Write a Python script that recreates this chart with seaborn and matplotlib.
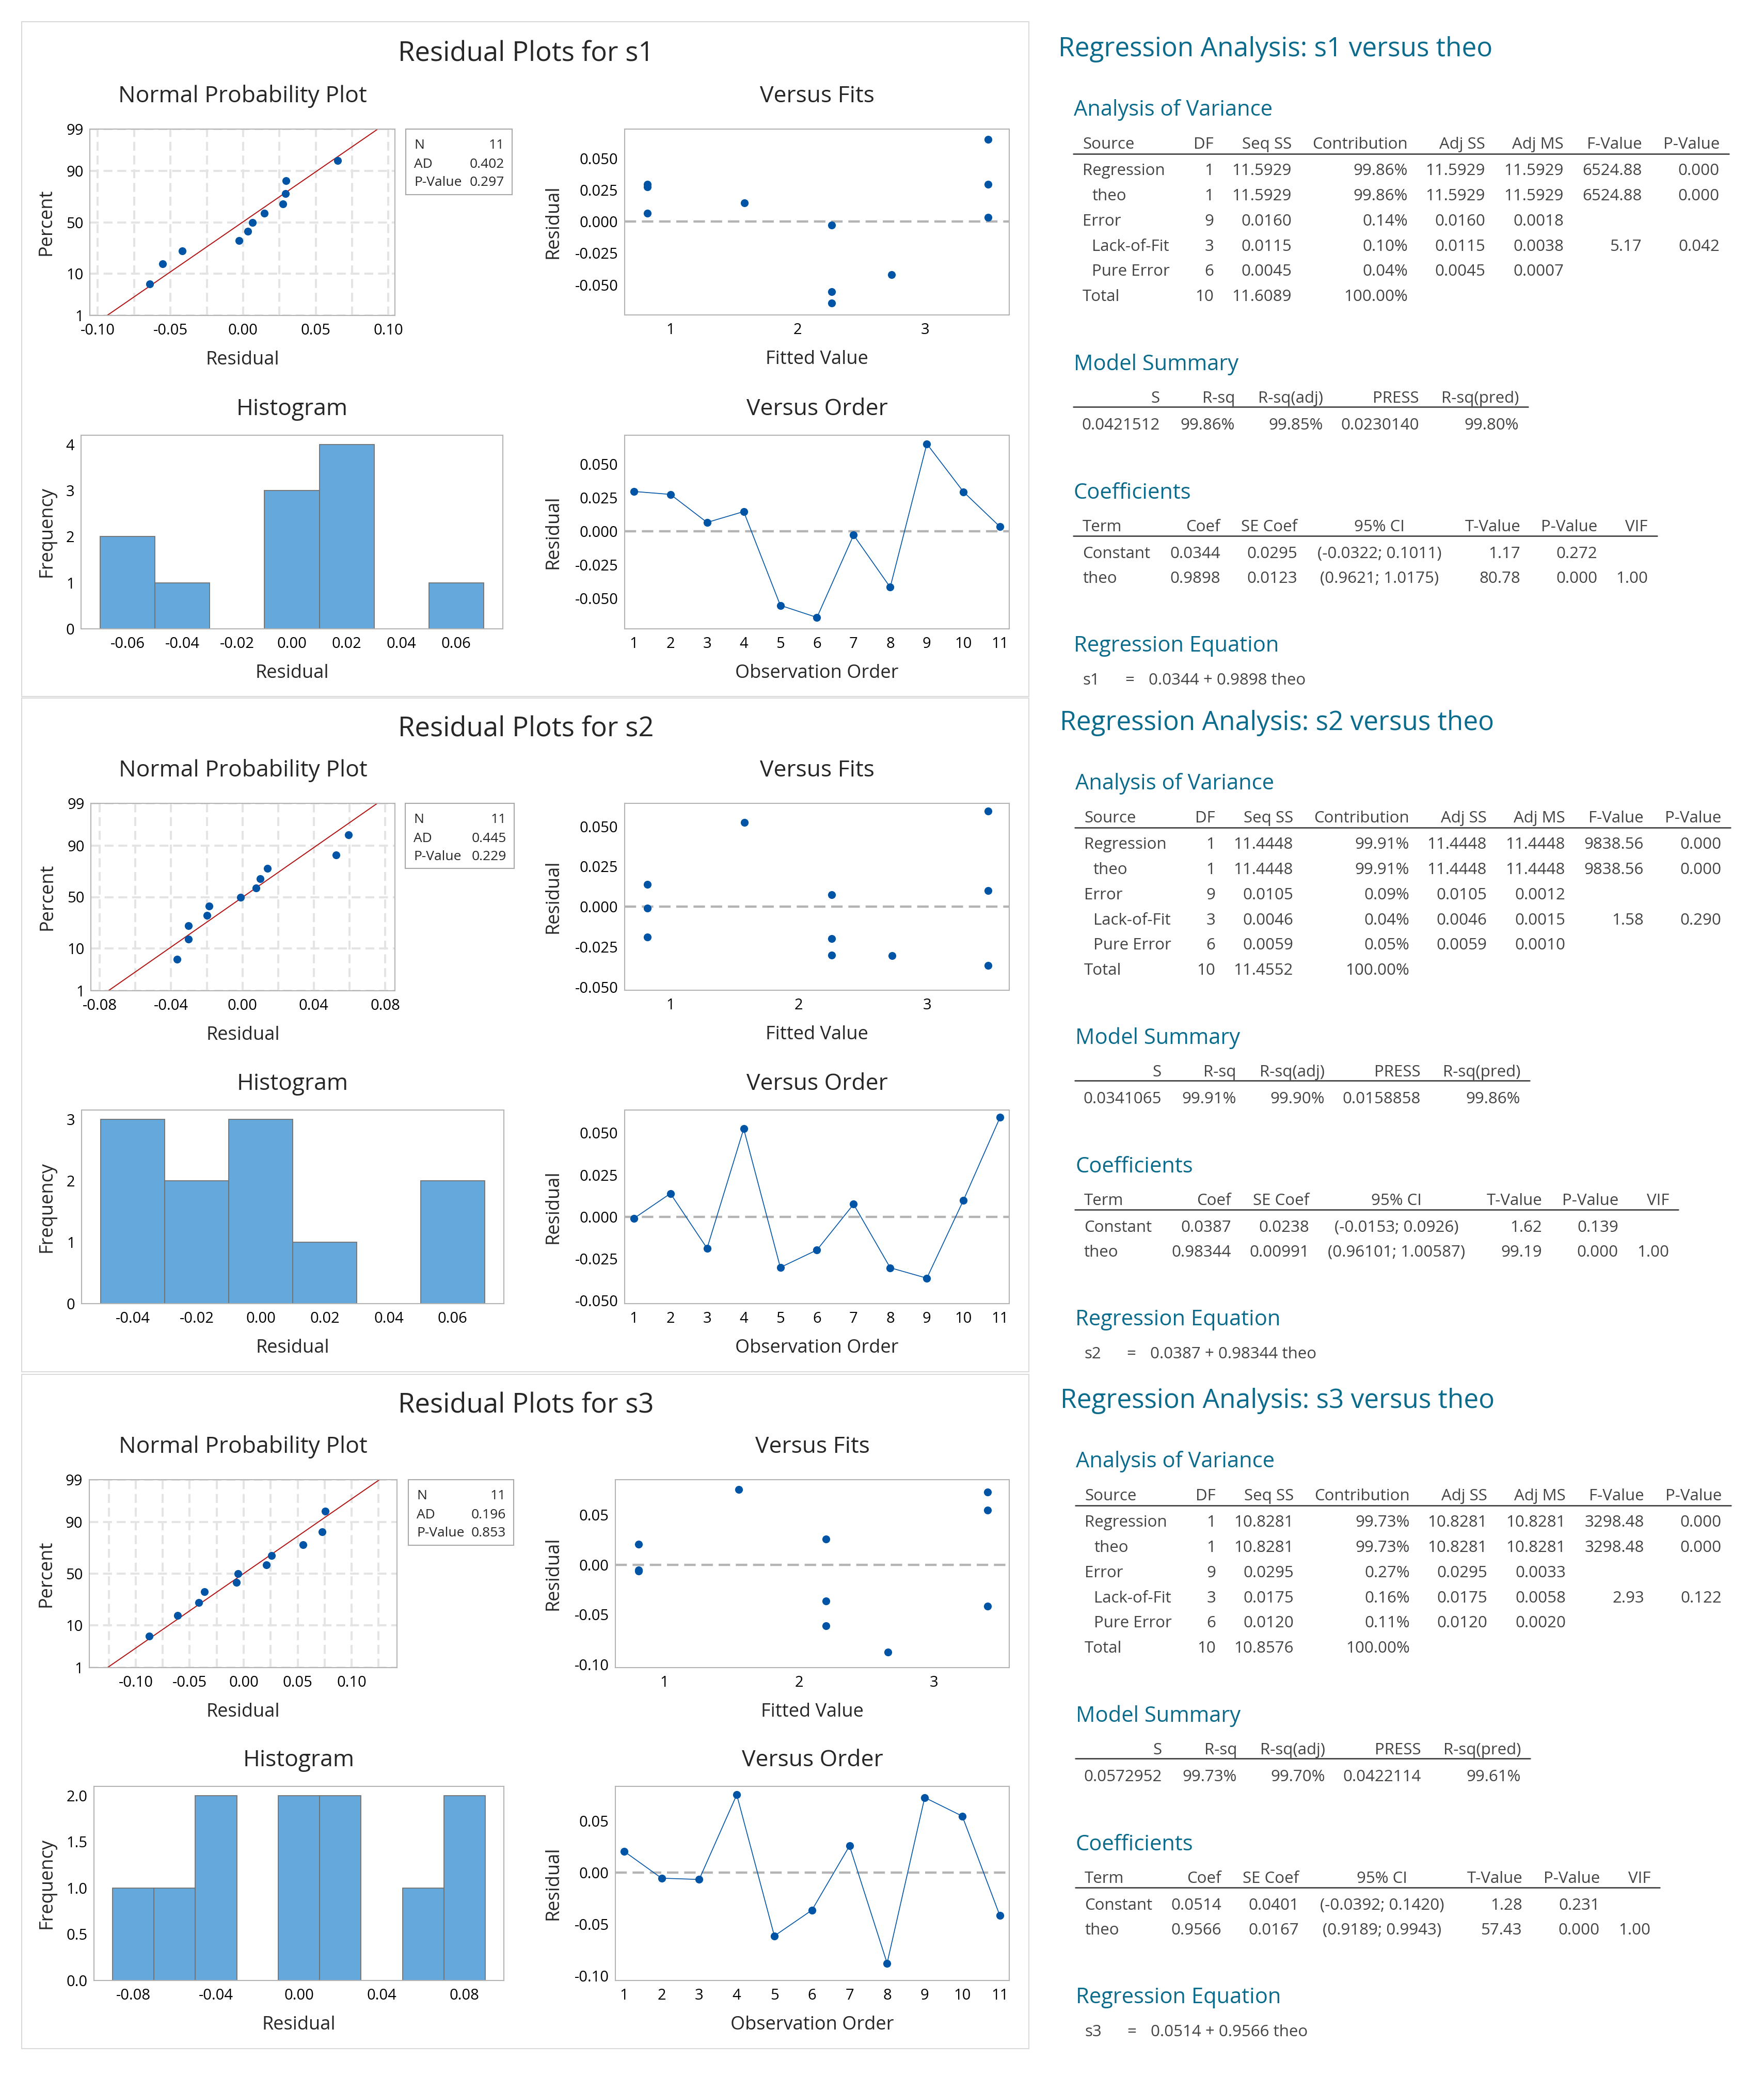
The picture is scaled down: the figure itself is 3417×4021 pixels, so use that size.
import numpy as np
import pandas as pd
import seaborn as sns
import matplotlib.pyplot as plt
from matplotlib.lines import Line2D
from matplotlib.patches import Rectangle
from matplotlib.ticker import MultipleLocator, FormatStrFormatter
from statistics import NormalDist

samples = ["s1", "s2", "s3"]
obs_order = [1, 2, 3, 4, 5, 6, 7, 8, 9, 10, 11]

resid_s1 = [0.0296, 0.0274, 0.0065, 0.0146, -0.0553, -0.0643, -0.0029, -0.0418, 0.0651, 0.0293, 0.0032]
fits_s1 = [0.818, 0.818, 0.818, 1.582, 2.268, 2.268, 2.268, 2.735, 3.494, 3.494, 3.494]
resid_s2 = [-0.0010, 0.0139, -0.0188, 0.0525, -0.0302, -0.0198, 0.0075, -0.0304, -0.0366, 0.0099, 0.0594]
fits_s2 = [0.820, 0.820, 0.820, 1.577, 2.258, 2.258, 2.258, 2.727, 3.474, 3.474, 3.474]
resid_s3 = [0.0208, -0.0053, -0.0065, 0.0755, -0.0612, -0.0362, 0.0260, -0.0876, 0.0728, 0.0548, -0.0415]
fits_s3 = [0.808, 0.808, 0.808, 1.550, 2.200, 2.200, 2.200, 2.660, 3.400, 3.400, 3.400]

# normal plot positions (percent) and fitted line ends at 1% / 99%
npp_percent = [6.1, 14.9, 23.7, 32.5, 41.2, 50.0, 58.8, 67.5, 76.3, 85.1, 93.9]
npp_line_s1 = [-0.0936, 0.0927]
npp_line_s2 = [-0.0752, 0.0756]
npp_line_s3 = [-0.1262, 0.1258]
npp_line_pct = [1, 99]

stats_s1 = ["11", "0.402", "0.297"]
stats_s2 = ["11", "0.445", "0.229"]
stats_s3 = ["11", "0.196", "0.853"]
stats_names = ["N", "AD", "P-Value"]

hist_bins_s1 = [-0.07, -0.05, -0.03, -0.01, 0.01, 0.03, 0.05, 0.07]
hist_bins_s2 = [-0.05, -0.03, -0.01, 0.01, 0.03, 0.05, 0.07]
hist_bins_s3 = [-0.09, -0.07, -0.05, -0.03, -0.01, 0.01, 0.03, 0.05, 0.07, 0.09]

# tick labels
npp_yticks = [1, 10, 50, 90, 99]
npp_xticks_s1 = [-0.10, -0.05, 0.00, 0.05, 0.10]
npp_xticks_s2 = [-0.08, -0.04, 0.00, 0.04, 0.08]
npp_xticks_s3 = [-0.10, -0.05, 0.00, 0.05, 0.10]
resid_ticks_s1 = [-0.050, -0.025, 0.000, 0.025, 0.050]
resid_ticks_s2 = [-0.050, -0.025, 0.000, 0.025, 0.050]
resid_ticks_s3 = [-0.10, -0.05, 0.00, 0.05]
fit_ticks = [1, 2, 3]
hist_xticks_s1 = [-0.06, -0.04, -0.02, 0.00, 0.02, 0.04, 0.06]
hist_xticks_s2 = [-0.04, -0.02, 0.00, 0.02, 0.04, 0.06]
hist_xticks_s3 = [-0.08, -0.04, 0.00, 0.04, 0.08]
hist_yticks_s1 = [0, 1, 2, 3, 4]
hist_yticks_s2 = [0, 1, 2, 3]
hist_yticks_s3 = [0.0, 0.5, 1.0, 1.5, 2.0]

# regression tables
aov_header = ["Source", "DF", "Seq SS", "Contribution", "Adj SS", "Adj MS", "F-Value", "P-Value"]
aov_source = ["Regression", "theo", "Error", "Lack-of-Fit", "Pure Error", "Total"]
aov_indent = [0, 1, 0, 1, 1, 0]
aov_s1 = [["1", "11.5929", "99.86%", "11.5929", "11.5929", "6524.88", "0.000"],
          ["1", "11.5929", "99.86%", "11.5929", "11.5929", "6524.88", "0.000"],
          ["9", "0.0160", "0.14%", "0.0160", "0.0018", "", ""],
          ["3", "0.0115", "0.10%", "0.0115", "0.0038", "5.17", "0.042"],
          ["6", "0.0045", "0.04%", "0.0045", "0.0007", "", ""],
          ["10", "11.6089", "100.00%", "", "", "", ""]]
aov_s2 = [["1", "11.4448", "99.91%", "11.4448", "11.4448", "9838.56", "0.000"],
          ["1", "11.4448", "99.91%", "11.4448", "11.4448", "9838.56", "0.000"],
          ["9", "0.0105", "0.09%", "0.0105", "0.0012", "", ""],
          ["3", "0.0046", "0.04%", "0.0046", "0.0015", "1.58", "0.290"],
          ["6", "0.0059", "0.05%", "0.0059", "0.0010", "", ""],
          ["10", "11.4552", "100.00%", "", "", "", ""]]
aov_s3 = [["1", "10.8281", "99.73%", "10.8281", "10.8281", "3298.48", "0.000"],
          ["1", "10.8281", "99.73%", "10.8281", "10.8281", "3298.48", "0.000"],
          ["9", "0.0295", "0.27%", "0.0295", "0.0033", "", ""],
          ["3", "0.0175", "0.16%", "0.0175", "0.0058", "2.93", "0.122"],
          ["6", "0.0120", "0.11%", "0.0120", "0.0020", "", ""],
          ["10", "10.8576", "100.00%", "", "", "", ""]]

ms_header = ["S", "R-sq", "R-sq(adj)", "PRESS", "R-sq(pred)"]
ms_s1 = ["0.0421512", "99.86%", "99.85%", "0.0230140", "99.80%"]
ms_s2 = ["0.0341065", "99.91%", "99.90%", "0.0158858", "99.86%"]
ms_s3 = ["0.0572952", "99.73%", "99.70%", "0.0422114", "99.61%"]

coef_header = ["Term", "Coef", "SE Coef", "95% CI", "T-Value", "P-Value", "VIF"]
coef_terms = ["Constant", "theo"]
coef_s1 = [["0.0344", "0.0295", "(-0.0322; 0.1011)", "1.17", "0.272", ""],
           ["0.9898", "0.0123", "(0.9621; 1.0175)", "80.78", "0.000", "1.00"]]
coef_s2 = [["0.0387", "0.0238", "(-0.0153; 0.0926)", "1.62", "0.139", ""],
           ["0.98344", "0.00991", "(0.96101; 1.00587)", "99.19", "0.000", "1.00"]]
coef_s3 = [["0.0514", "0.0401", "(-0.0392; 0.1420)", "1.28", "0.231", ""],
           ["0.9566", "0.0167", "(0.9189; 0.9943)", "57.43", "0.000", "1.00"]]

equation_s1 = "0.0344 + 0.9898 theo"
equation_s2 = "0.0387 + 0.98344 theo"
equation_s3 = "0.0514 + 0.9566 theo"

# ---------------- styling ----------------
BLUE = "#0054a6"
RED = "#b01010"
HIST = "#65a8dc"
HIST_EDGE = "#727272"
FRAME = "#b4b4b4"
GRID = "#e4e4e4"
TEAL = "#0b6b8c"
TXT = "#444444"

sns.set_style("white")
plt.rcParams["font.family"] = ["Open Sans", "DejaVu Sans"]
plt.rcParams["axes.unicode_minus"] = False

W, H = 3417, 4021
fig = plt.figure(figsize=(W / 100, H / 100), dpi=100)


def fx(x):
    return x / W


def fy(y):
    return 1 - y / H


def add_ax(box, off):
    x0, y0, x1, y1 = box
    return fig.add_axes([fx(x0), fy(y1 + off), (x1 - x0) / W, (y1 - y0) / H])


def ftext(x, y, s, **kw):
    # nudge down so the visual centre of the letters sits on y
    kw.setdefault("va", "center")
    y = y + 0.14 * kw.get("fontsize", 20)
    fig.text(fx(x), fy(y), s, **kw)


def hline(x0, x1, y, color="#333333", lw=1.8):
    fig.add_artist(Line2D([fx(x0), fx(x1)], [fy(y), fy(y)], transform=fig.transFigure,
                          color=color, lw=lw))


_nd = NormalDist()


def probit(p):
    p = np.asarray(p, dtype=float)
    out = np.full(p.shape, np.nan)
    ok = np.isfinite(p)
    pc = np.clip(p[ok], 1e-7, 100 - 1e-7)
    out[ok] = [_nd.inv_cdf(v / 100.0) for v in pc]
    return out


def probit_inv(z):
    z = np.asarray(z, dtype=float)
    out = np.full(z.shape, np.nan)
    ok = np.isfinite(z)
    out[ok] = [_nd.cdf(v) * 100.0 for v in z[ok]]
    return out


def style_ax(ax, tick_size=21):
    for sp in ax.spines.values():
        sp.set_color(FRAME)
        sp.set_linewidth(1.5)
    ax.tick_params(axis="both", which="major", direction="out", length=4, width=1.2,
                   color=FRAME, labelsize=tick_size, labelcolor="black", pad=5)
    ax.tick_params(axis="both", which="minor", length=0)
    ax.tick_params(axis="x", which="major", pad=7)


def titles(ax, title, xlabel, ylabel, box, title_gap, ylab_gap):
    x0, y0, x1, y1 = box
    w, h = x1 - x0, y1 - y0
    ax.set_title(title, fontsize=32, y=1 + title_gap / h, va="center")
    ax.set_xlabel(xlabel, fontsize=26, va="center")
    ax.xaxis.set_label_coords(0.5, -86 / h)
    ax.set_ylabel(ylabel, fontsize=26, va="center")
    ax.yaxis.set_label_coords(-ylab_gap / w, 0.5)


# ---------------- layout (pixels) ----------------
left_off = [0, 1308, 2618]
right_off = [0, 1305, 2618]
right_dx = [0, 3, 4]
panel_box = [(42, 42, 1993, 1349), (42, 1352, 1993, 2657), (42, 2662, 1993, 3968)]
npp_box = [(174, 250, 765, 611), (176, 248, 765, 611), (173, 248, 769, 612)]
stat_box = [(786, 250, 992, 377), (785, 248, 996, 374), (791, 248, 995, 375)]
vf_box = [(1210, 250, 1955, 610), (1210, 248, 1955, 610), (1192, 248, 1955, 612)]
hist_box = [(157, 843, 974, 1218), (158, 842, 976, 1217), (182, 842, 976, 1218)]
vo_box = [(1210, 843, 1955, 1218), (1210, 842, 1955, 1217), (1192, 842, 1955, 1218)]
vf_gap = [139, 139, 121]
hist_gap = [67, 68, 92]

npp_xlim = [(-0.1055, 0.1045), (-0.085, 0.0855), (-0.143, 0.142)]
npp_minor = [0.025, 0.02, 0.025]
vf_xlim = [(0.641, 3.66), (0.644, 3.64), (0.636, 3.56)]
vf_ylim = [(-0.0738, 0.0731), (-0.0519, 0.0643), (-0.1031, 0.0853)]
vo_xlim = [(0.75, 11.25), (0.75, 11.25), (0.77, 11.25)]
vo_ylim = [(-0.0728, 0.0715), (-0.0518, 0.0637), (-0.1043, 0.0836)]
resid_fmt = ["%.3f", "%.3f", "%.2f"]
hist_yfmt = ["%d", "%d", "%.1f"]

resids = [resid_s1, resid_s2, resid_s3]
fits = [fits_s1, fits_s2, fits_s3]
npp_lines = [npp_line_s1, npp_line_s2, npp_line_s3]
stats = [stats_s1, stats_s2, stats_s3]
hist_bins = [hist_bins_s1, hist_bins_s2, hist_bins_s3]
npp_xticks = [npp_xticks_s1, npp_xticks_s2, npp_xticks_s3]
resid_ticks = [resid_ticks_s1, resid_ticks_s2, resid_ticks_s3]
hist_xticks = [hist_xticks_s1, hist_xticks_s2, hist_xticks_s3]
hist_yticks = [hist_yticks_s1, hist_yticks_s2, hist_yticks_s3]

for k, name in enumerate(samples):
    off = left_off[k]
    df = pd.DataFrame({"order": obs_order, "fit": fits[k], "resid": resids[k]})

    # panel frame + title
    bx0, by0, bx1, by1 = panel_box[k]
    fig.add_artist(Rectangle((fx(bx0), fy(by1)), (bx1 - bx0) / W, (by1 - by0) / H,
                             transform=fig.transFigure, fill=False, edgecolor="#dadada", lw=1.5))
    ftext(1019, 99 + off, f"Residual Plots for {name}", ha="center", fontsize=38)

    # normal probability plot
    ax = add_ax(npp_box[k], off)
    ax.set_yscale("function", functions=(probit, probit_inv))
    ax.set_axisbelow(True)
    sns.lineplot(x=npp_lines[k], y=npp_line_pct, ax=ax, color=RED, lw=1.4,
                 estimator=None, sort=False)
    sns.scatterplot(x=sorted(resids[k]), y=npp_percent, ax=ax, color=BLUE, s=120,
                    linewidth=0, zorder=3)
    ax.set_xlim(*npp_xlim[k])
    ax.set_ylim(1, 99)
    ax.set_yticks(npp_yticks)
    ax.set_yticklabels([str(v) for v in npp_yticks])
    ax.set_xticks(npp_xticks[k])
    ax.xaxis.set_major_formatter(FormatStrFormatter("%.2f"))
    ax.xaxis.set_minor_locator(MultipleLocator(npp_minor[k]))
    ax.grid(True, axis="x", which="both", color=GRID, lw=2.9, ls=(0, (4.3, 2.3)))
    ax.grid(True, axis="y", which="major", color=GRID, lw=2.9, ls=(0, (4.3, 2.3)))
    style_ax(ax)
    titles(ax, "Normal Probability Plot", "Residual", "Percent", npp_box[k], 55, 84)

    # stats box
    sx0, sy0, sx1, sy1 = stat_box[k]
    sax = add_ax(stat_box[k], off)
    sax.set_xticks([])
    sax.set_yticks([])
    for sp in sax.spines.values():
        sp.set_color("#a8a8a8")
        sp.set_linewidth(1.5)
    for i, (lab, val) in enumerate(zip(stats_names, stats[k])):
        yy = [29, 66, 101][i]
        ftext(sx0 + 16, sy0 + off + yy, lab, fontsize=19)
        ftext(sx1 - 15, sy0 + off + yy, val, fontsize=19, ha="right")

    # versus fits
    ax = add_ax(vf_box[k], off)
    ax.axhline(0, color="#b4b4b4", lw=3.2, ls=(0, (5, 2.5)), zorder=1)
    sns.scatterplot(data=df, x="fit", y="resid", ax=ax, color=BLUE, s=120, linewidth=0, zorder=3)
    ax.set_xlim(*vf_xlim[k])
    ax.set_ylim(*vf_ylim[k])
    ax.set_xticks(fit_ticks)
    ax.set_yticks(resid_ticks[k])
    ax.yaxis.set_major_formatter(FormatStrFormatter(resid_fmt[k]))
    style_ax(ax)
    titles(ax, "Versus Fits", "Fitted Value", "Residual", vf_box[k], 55, vf_gap[k])

    # histogram
    ax = add_ax(hist_box[k], off)
    sns.histplot(data=df, x="resid", bins=hist_bins[k], ax=ax, color=HIST,
                 edgecolor=HIST_EDGE, linewidth=1.3, alpha=1)
    ax.set_xticks(hist_xticks[k])
    ax.xaxis.set_major_formatter(FormatStrFormatter("%.2f"))
    ax.set_yticks(hist_yticks[k])
    ax.yaxis.set_major_formatter(FormatStrFormatter(hist_yfmt[k]))
    style_ax(ax)
    titles(ax, "Histogram", "Residual", "Frequency", hist_box[k], 42, hist_gap[k])

    # versus order
    ax = add_ax(vo_box[k], off)
    ax.axhline(0, color="#b4b4b4", lw=3.2, ls=(0, (5, 2.5)), zorder=1)
    sns.lineplot(data=df, x="order", y="resid", ax=ax, color=BLUE, lw=1.2, marker="o",
                 markersize=11, markeredgewidth=0, estimator=None, sort=False, zorder=3)
    ax.set_xlim(*vo_xlim[k])
    ax.set_ylim(*vo_ylim[k])
    ax.set_xticks(obs_order)
    ax.set_yticks(resid_ticks[k])
    ax.yaxis.set_major_formatter(FormatStrFormatter(resid_fmt[k]))
    style_ax(ax)
    titles(ax, "Versus Order", "Observation Order", "Residual", vo_box[k], 42, vf_gap[k])

# ---------------- regression output text ----------------
aovs = [aov_s1, aov_s2, aov_s3]
mss = [ms_s1, ms_s2, ms_s3]
coefs = [coef_s1, coef_s2, coef_s3]
equations = [equation_s1, equation_s2, equation_s3]
aov_right = [2351, 2502, 2727, 2877, 3029, 3181, 3331]
ms_right = [2247, 2392, 2563, 2749, 2942]
coef_cols = [[2364, 2513, 2672, 2945, 3094, 3192],
             [2385, 2536, 2705, 2987, 3135, 3233],
             [2366, 2516, 2677, 2949, 3099, 3197]]
coef_line_end = [3210, 3251, 3215]

TS = 22.5
for k, name in enumerate(samples):
    y0 = right_off[k]
    dx = right_dx[k]
    ftext(2050 + dx, 90 + y0, f"Regression Analysis: {name} versus theo", fontsize=37, color=TEAL)

    # analysis of variance
    ftext(2080 + dx, 209 + y0, "Analysis of Variance", fontsize=30, color=TEAL)
    ftext(2097 + dx, 277 + y0, aov_header[0], fontsize=TS, color=TXT)
    for j, hd in enumerate(aov_header[1:]):
        ftext(aov_right[j] + dx, 277 + y0, hd, fontsize=TS, color=TXT, ha="right")
    hline(2079 + dx, 3349 + dx, 298 + y0)
    for r, (src, ind) in enumerate(zip(aov_source, aov_indent)):
        yy = 328 + 48.8 * r + y0
        ftext(2097 + dx + 18 * ind, yy, src, fontsize=TS, color=TXT)
        for j, val in enumerate(aovs[k][r]):
            if val:
                ftext(aov_right[j] + dx, yy, val, fontsize=TS, color=TXT, ha="right")

    # model summary
    ftext(2080 + dx, 702 + y0, "Model Summary", fontsize=30, color=TEAL)
    for j, hd in enumerate(ms_header):
        ftext(ms_right[j] + dx, 769 + y0, hd, fontsize=TS, color=TXT, ha="right")
        ftext(ms_right[j] + dx, 821 + y0, mss[k][j], fontsize=TS, color=TXT, ha="right")
    hline(2079 + dx, 2960 + dx, 788 + y0)

    # coefficients
    cols = coef_cols[k]
    ftext(2080 + dx, 951 + y0, "Coefficients", fontsize=30, color=TEAL)
    ftext(2097 + dx, 1018 + y0, coef_header[0], fontsize=TS, color=TXT)
    for j, hd in enumerate(coef_header[1:]):
        ftext(cols[j], 1018 + y0, hd, fontsize=TS, color=TXT, ha="center" if j == 2 else "right")
    hline(2079 + dx, coef_line_end[k], 1038 + y0)
    for r, term in enumerate(coef_terms):
        yy = 1070 + 48 * r + y0
        ftext(2097 + dx, yy, term, fontsize=TS, color=TXT)
        for j, val in enumerate(coefs[k][r]):
            if val:
                ftext(cols[j], yy, val, fontsize=TS, color=TXT, ha="center" if j == 2 else "right")

    # regression equation
    ftext(2080 + dx, 1247 + y0, "Regression Equation", fontsize=30, color=TEAL)
    ftext(2097 + dx, 1315 + y0, name, fontsize=TS, color=TXT)
    ftext(2179 + dx, 1315 + y0, "=", fontsize=TS, color=TXT)
    ftext(2225 + dx, 1315 + y0, equations[k], fontsize=TS, color=TXT)

fig.savefig("out.png", dpi=100, facecolor="white")
